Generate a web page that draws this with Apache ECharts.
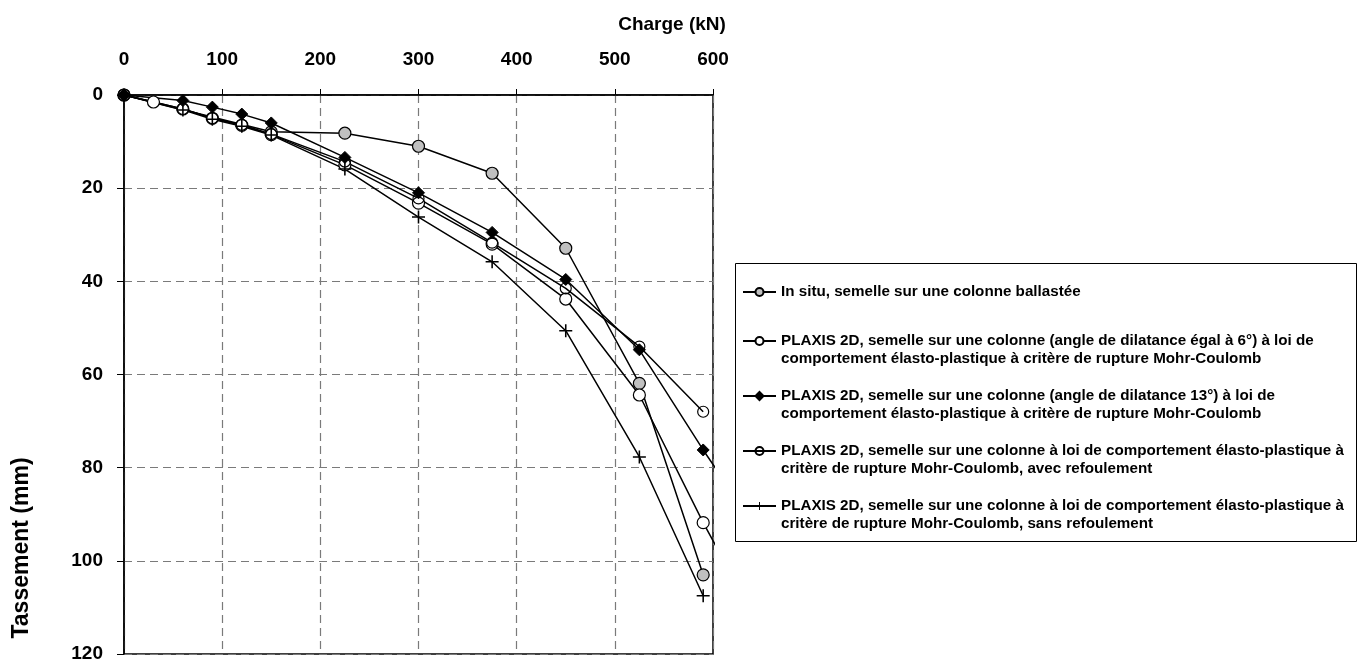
<!DOCTYPE html>
<html><head><meta charset="utf-8">
<script src="https://cdn.jsdelivr.net/npm/echarts@6/dist/echarts.min.js"></script>
<style>html,body{margin:0;padding:0;background:#fff}#c{width:1365px;height:664px}</style>
</head><body><div id="c"></div>
<script>
// ---- data ----
const xTicks = [0, 100, 200, 300, 400, 500, 600];
const yTicks = [0, 20, 40, 60, 80, 100, 120];

const insituLoad   = [0, 150, 225, 300, 375, 450, 525, 590];
const insituSettle = [0, 7.9, 8.2, 11.0, 16.8, 32.9, 61.9, 103.0];

const dil6Load   = [0, 30, 60, 90, 120, 150, 225, 300, 375, 450, 525, 590, 660];
const dil6Settle = [0, 1.5, 3.0, 5.0, 6.5, 8.5, 15.0, 23.2, 32.0, 43.8, 64.4, 91.8, 119.0];

const dil13Load   = [0, 60, 90, 120, 150, 225, 300, 375, 450, 525, 590, 660];
const dil13Settle = [0, 1.2, 2.6, 4.1, 6.0, 13.4, 21.0, 29.5, 39.6, 54.7, 76.2, 98.0];

const avecLoad   = [0, 60, 90, 120, 150, 225, 300, 375, 450, 525, 590];
const avecSettle = [0, 3.0, 5.0, 6.4, 8.4, 14.3, 22.2, 31.7, 41.5, 54.0, 68.0];

const sansLoad   = [0, 60, 90, 120, 150, 225, 300, 375, 450, 525, 590];
const sansSettle = [0, 3.2, 5.2, 6.7, 8.6, 15.9, 26.2, 35.8, 50.6, 77.7, 107.5];

const names = [
  "In situ, semelle sur une colonne ballastée",
  "PLAXIS 2D, semelle sur une colonne (angle de dilatance égal à 6°) à loi de\ncomportement élasto-plastique à critère de rupture Mohr-Coulomb",
  "PLAXIS 2D, semelle sur une colonne (angle de dilatance 13°) à loi de\ncomportement élasto-plastique à critère de rupture Mohr-Coulomb",
  "PLAXIS 2D, semelle sur une colonne à loi de comportement élasto-plastique à\ncritère de rupture Mohr-Coulomb, avec refoulement",
  "PLAXIS 2D, semelle sur une colonne à loi de comportement élasto-plastique à\ncritère de rupture Mohr-Coulomb, sans refoulement"
];

// ---- chart ----
const FONT = '"Liberation Sans", Arial, sans-serif';
const pair = (xs, ys) => xs.map((x, i) => [x, ys[i]]);
const plus = 'path://M4.4,0H5.6V4.4H10V5.6H5.6V10H4.4V5.6H0V4.4H4.4Z';

function ser(name, data, symbol, size, fill, bw) {
  return {
    name, type: 'line', data, symbol, symbolSize: size, clip: true,
    lineStyle: {color: '#000', width: 1.5},
    itemStyle: {color: fill, borderColor: '#000', borderWidth: bw},
    emphasis: {disabled: true}, animation: false
  };
}

const chart = echarts.init(document.getElementById('c'), null, {renderer: 'canvas'});
chart.setOption({
  backgroundColor: '#fff',
  textStyle: {fontFamily: FONT},
  grid: {left: 124, top: 95, right: 652, bottom: 10, show: true, borderColor: '#000', borderWidth: 1.5, backgroundColor: 'transparent'},
  xAxis: {
    type: 'value', position: 'top', min: xTicks[0], max: xTicks[xTicks.length - 1], interval: 100,
    axisLine: {show: true, lineStyle: {color: '#000', width: 1.5}},
    axisTick: {show: true, inside: false, length: 6, lineStyle: {color: '#000'}},
    axisLabel: {color: '#000', fontSize: 19, fontWeight: 'bold', fontFamily: FONT, margin: 26},
    splitLine: {show: true, lineStyle: {color: '#7a7a7a', width: 1.2, type: [8, 5]}}
  },
  yAxis: {
    type: 'value', inverse: true, min: yTicks[0], max: yTicks[yTicks.length - 1], interval: 20,
    axisLine: {show: true, lineStyle: {color: '#000', width: 1.5}},
    axisTick: {show: true, inside: false, length: 7, lineStyle: {color: '#000'}},
    axisLabel: {color: '#000', fontSize: 19, fontWeight: 'bold', fontFamily: FONT, margin: 21},
    splitLine: {show: true, lineStyle: {color: '#7a7a7a', width: 1.2, type: [8, 5]}}
  },
  legend: {
    left: 742, top: 271, orient: 'vertical', itemGap: 1, padding: 0,
    itemWidth: 33, itemHeight: 10, selectedMode: false,
    formatter: n => (n.indexOf('\n') >= 0 ? '\n' + n : n),
    textStyle: {color: '#000', fontSize: 15.2, fontWeight: 'bold', fontFamily: FONT, lineHeight: 18},
    data: [
      {name: names[0], textStyle: {padding: [12, 0, 12, 0]}},
      {name: names[1]}, {name: names[2]}, {name: names[3]}, {name: names[4]}
    ]
  },
  graphic: [
    {type: 'rect', shape: {x: 735.5, y: 263.5, width: 621, height: 278}, style: {fill: 'none', stroke: '#000', lineWidth: 1}, silent: true},
    {type: 'text', x: 672, y: 25, style: {text: 'Charge (kN)', font: 'bold 19px ' + FONT, fill: '#000', align: 'center', verticalAlign: 'middle'}},
    {type: 'text', x: 22, y: 548, rotation: Math.PI / 2, style: {text: 'Tassement (mm)', font: 'bold 23px ' + FONT, fill: '#000', align: 'center', verticalAlign: 'middle'}}
  ],
  series: [
    ser(names[0], pair(insituLoad, insituSettle), 'circle', 12, '#c0c0c0', 1.2),
    ser(names[1], pair(dil6Load, dil6Settle), 'circle', 12, '#fff', 1.2),
    ser(names[2], pair(dil13Load, dil13Settle), 'diamond', 12, '#000', 1),
    ser(names[3], pair(avecLoad, avecSettle), 'circle', 11, 'rgba(255,255,255,0)', 1.2),
    ser(names[4], pair(sansLoad, sansSettle), plus, 13, '#000', 0)
  ]
});
</script></body></html>
